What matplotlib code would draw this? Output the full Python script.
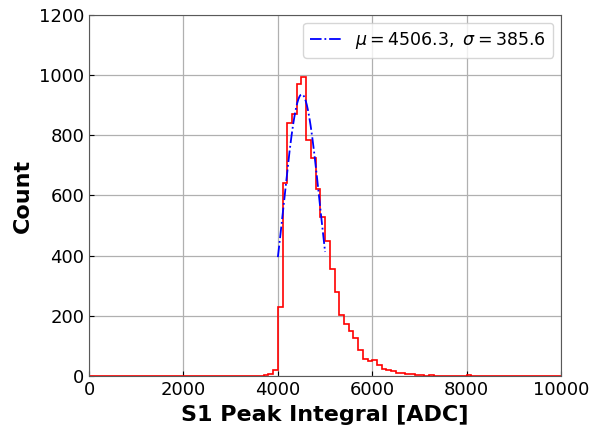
import numpy as np
import matplotlib
matplotlib.use("Agg")
import matplotlib.pyplot as plt

# histogram of S1 peak integral, 100 ADC bins from 0 to 10000
bin_edges = np.arange(0, 10001, 100)
counts = [0] * 23 + [
    1, 0, 0, 1, 1, 0, 1, 2, 1, 1, 0, 2, 1, 2, 5, 6, 19,          # 2300-3900
    228, 640, 842, 872, 970, 994, 783, 726, 620, 530,            # 4000-4900
    450, 355, 278, 204, 173, 151, 126, 88, 58, 49,               # 5000-5900
    52, 38, 25, 20, 16, 11, 11, 7, 6, 4,                         # 6000-6900
    4, 2, 3, 1, 1, 0, 1, 0, 0, 2,                                # 7000-7900
    4, 1, 0, 0, 1, 0, 0, 2, 1, 0,                                # 8000-8900
    0, 2, 1, 0, 0, 1, 1, 1, 1, 1,                                # 9000-9900
]

# gaussian fit result
mu = 4506.3
sigma = 385.6
amp = 936.0
fit_range = (4000, 5000)

fig, ax = plt.subplots(figsize=(5.9, 4.25), dpi=100)
fig.subplots_adjust(left=0.151, right=0.951, top=0.965, bottom=0.115)

ax.stairs(counts, bin_edges, color='red', linewidth=1.2)

xf = np.linspace(fit_range[0], fit_range[1], 200)
yf = amp * np.exp(-(xf - mu) ** 2 / (2 * sigma ** 2))
ax.plot(xf, yf, color='blue', linestyle='-.', linewidth=1.3,
        label=r'$\mu = %.1f,\ \sigma = %.1f$' % (mu, sigma))

ax.set_xlim(0, 10000)
ax.set_ylim(0, 1200)
ax.set_xticks(np.arange(0, 10001, 2000))
ax.set_yticks(np.arange(0, 1201, 200))
ax.grid(True, color='#b0b0b0', linewidth=0.9)
ax.set_axisbelow(True)
ax.tick_params(direction='in', labelsize=13)
for s in ax.spines.values():
    s.set_color('0.35')

ax.set_xlabel('S1 Peak Integral [ADC]', fontsize=16, fontweight='bold')
ax.set_ylabel('Count', fontsize=16, fontweight='bold')
ax.legend(loc='upper right', fontsize=12.5, handlelength=1.8,
          borderaxespad=0.45)

plt.savefig('out.png', dpi=100)
